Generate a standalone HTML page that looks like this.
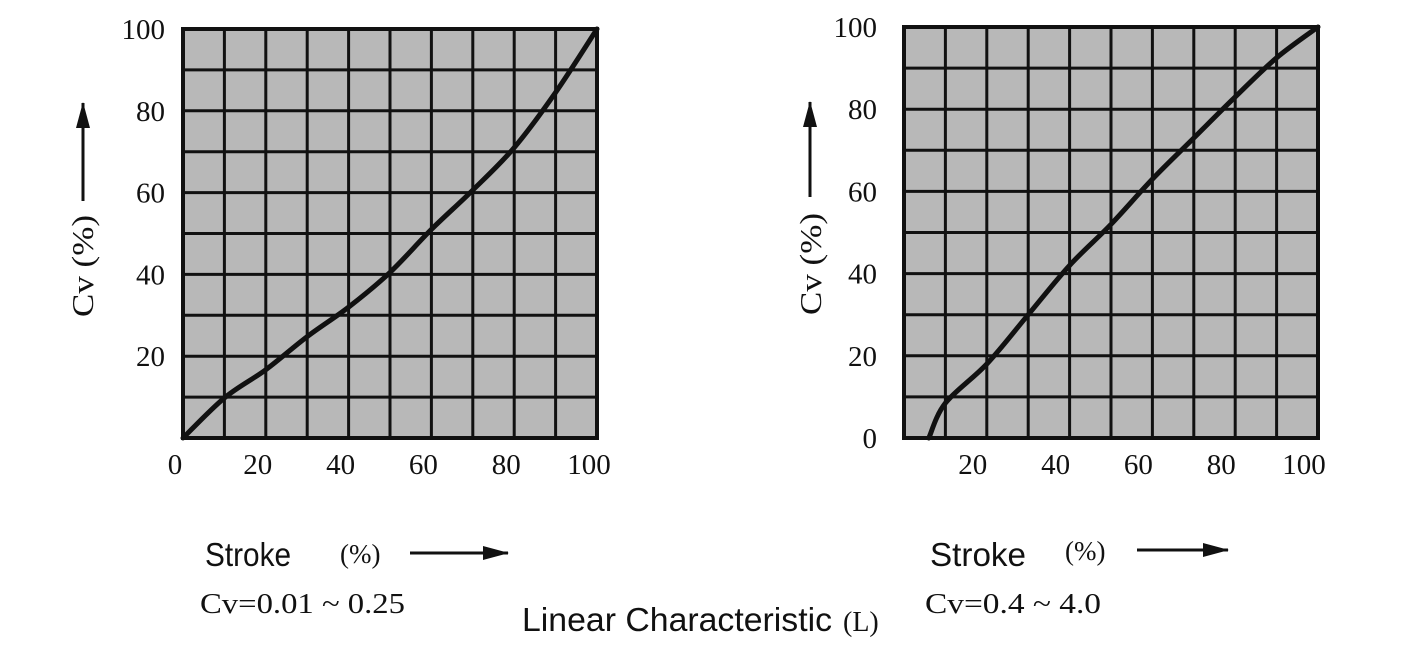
<!DOCTYPE html>
<html><head><meta charset="utf-8">
<style>
html,body{margin:0;padding:0;background:#fff;}
svg{display:block;}
.serif{font-family:"Liberation Serif",serif;fill:#111;}
.sans{font-family:"Liberation Sans",sans-serif;fill:#111;}
</style></head>
<body>
<svg id="chart" width="1422" height="664" viewBox="0 0 1422 664" xmlns="http://www.w3.org/2000/svg">
<defs>
<marker id="ahl" markerWidth="26" markerHeight="14" refX="25" refY="7" orient="auto" markerUnits="userSpaceOnUse"><path d="M0,0 L26,7 L0,14 z" fill="#111"/></marker>
</defs>
<g id="left"></g>
<g id="right"></g>

<text class="serif" font-size="31" text-anchor="middle" transform="translate(93,266) rotate(-90)" textLength="102" lengthAdjust="spacingAndGlyphs">Cv (%)</text>
<line x1="83" y1="201" x2="83" y2="103" stroke="#111" stroke-width="3" marker-end="url(#ahl)"/>
<text class="sans" x="205" y="566" font-size="33" textLength="86" lengthAdjust="spacingAndGlyphs">Stroke</text>
<text class="serif" x="340" y="563" font-size="27">(%)</text>
<line x1="410" y1="553" x2="508" y2="553" stroke="#111" stroke-width="3" marker-end="url(#ahl)"/>
<text class="serif" x="200" y="613" font-size="28" textLength="205" lengthAdjust="spacingAndGlyphs">Cv=0.01 ~ 0.25</text>

<text class="serif" font-size="31" text-anchor="middle" transform="translate(821,264) rotate(-90)" textLength="102" lengthAdjust="spacingAndGlyphs">Cv (%)</text>
<line x1="810" y1="197" x2="810" y2="102" stroke="#111" stroke-width="3" marker-end="url(#ahl)"/>
<text class="sans" x="930" y="566" font-size="33" textLength="96" lengthAdjust="spacingAndGlyphs">Stroke</text>
<text class="serif" x="1065" y="560" font-size="27">(%)</text>
<line x1="1137" y1="550" x2="1228" y2="550" stroke="#111" stroke-width="3" marker-end="url(#ahl)"/>
<text class="serif" x="925" y="613" font-size="28" textLength="176" lengthAdjust="spacingAndGlyphs">Cv=0.4 ~ 4.0</text>

<text class="sans" x="522" y="631" font-size="33" textLength="310" lengthAdjust="spacingAndGlyphs">Linear Characteristic</text>
<text class="serif" x="843" y="631" font-size="28">(L)</text>
</svg>
<script>
const leftStroke = [0,10,20,30,40,50,60,70,80,90,100];
const leftCv = [0,9.8,16.7,24.8,32,40.5,51,60.6,71,84.5,100];
const rightStroke = [6,10,20,30,40,50,60,70,80,90,100];
const rightCv = [0,8.5,18,30,42,52,63,73,83,92.5,100];
const leftXTicks = ["0","20","40","60","80","100"];
const leftYTicks = ["20","40","60","80","100"];
const rightXTicks = ["20","40","60","80","100"];
const rightYTicks = ["0","20","40","60","80","100"];
const NS = "http://www.w3.org/2000/svg";

function mk(tag, attrs, parent){
  const e = document.createElementNS(NS, tag);
  for (const k in attrs) e.setAttribute(k, attrs[k]);
  parent.appendChild(e);
  return e;
}

function smoothPath(pts){
  let d = 'M' + pts[0][0].toFixed(1) + ',' + pts[0][1].toFixed(1);
  for (let i = 0; i < pts.length - 1; i++) {
    const p0 = pts[Math.max(0, i-1)], p1 = pts[i], p2 = pts[i+1], p3 = pts[Math.min(pts.length-1, i+2)];
    const c1 = [p1[0] + (p2[0]-p0[0])/6, p1[1] + (p2[1]-p0[1])/6];
    const c2 = [p2[0] - (p3[0]-p1[0])/6, p2[1] - (p3[1]-p1[1])/6];
    d += ' C' + c1[0].toFixed(1) + ',' + c1[1].toFixed(1) + ' ' + c2[0].toFixed(1) + ',' + c2[1].toFixed(1) + ' ' + p2[0].toFixed(1) + ',' + p2[1].toFixed(1);
  }
  return d;
}

function drawChart(gid, x0, x1, y0, y1, xs, ys, xTicks, yTicks, xLabOff, yLabX, side){
  const g = document.getElementById(gid);
  const sx = v => x0 + (x1 - x0) * v / 100;
  const sy = v => y1 - (y1 - y0) * v / 100;
  const bg = mk('rect', {x:x0, y:y0, width:x1-x0, height:y1-y0, fill:'#b8b8b8'}, g);
  
  
  for (let i = 1; i < 10; i++) {
    const v = mk('line', {x1:sx(i*10), x2:sx(i*10), y1:y0, y2:y1, stroke:'#111', 'stroke-width':3}, g);
    
    
    const h = mk('line', {x1:x0, x2:x1, y1:sy(i*10), y2:sy(i*10), stroke:'#111', 'stroke-width':3}, g);
    
    
  }
  const fr = mk('rect', {x:x0, y:y0, width:x1-x0, height:y1-y0, fill:'none', stroke:'#111', 'stroke-width':4}, g);
  
  
  const pts = xs.map((x, i) => [sx(x), sy(ys[i])]);
  const p = mk('path', {d:smoothPath(pts), fill:'none', stroke:'#111', 'stroke-width':5, 'stroke-linecap':'round'}, g);
  
  
  xTicks.forEach(t => {
    const tx = mk('text', {x:sx(+t) + xLabOff, y:y1 + 36, 'font-size':29, 'text-anchor':'middle', class:'serif'}, g);
    tx.textContent = t;
    
    
  });
  yTicks.forEach(t => {
    const ty = mk('text', {x:yLabX, y:sy(+t) + 10, 'font-size':29, 'text-anchor':'end', class:'serif'}, g);
    ty.textContent = t;
    
    
  });
}
drawChart('left', 183, 597, 29, 438, leftStroke, leftCv, leftXTicks, leftYTicks, -8, 165, 'left');
drawChart('right', 904, 1318, 27, 438, rightStroke, rightCv, rightXTicks, rightYTicks, -14, 877, 'right');
</script>
</body></html>
